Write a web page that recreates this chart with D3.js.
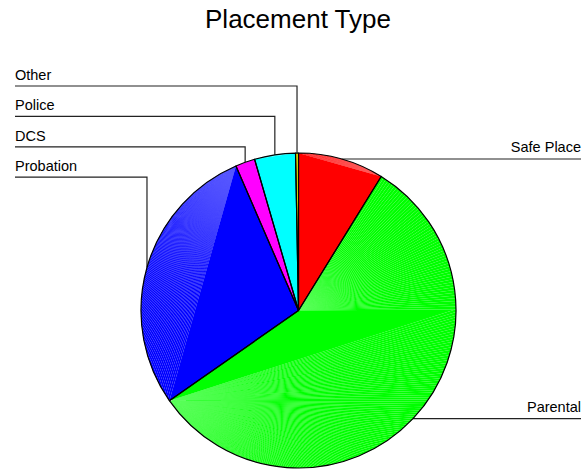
<!DOCTYPE html>
<html>
<head>
<meta charset="utf-8">
<script src="https://cdn.jsdelivr.net/npm/d3@7"></script>
<style>
  body { margin: 0; background: #fff; }
  text { font-family: Arial, "Liberation Sans", Helvetica, sans-serif; }
</style>
</head>
<body>
<div class="chart"></div>
<script>
// data
var categories = ["Safe Place", "Parental", "Probation", "DCS", "Police", "Other"];
var values = [88, 565, 282, 20, 42, 3];
var colors = ["#ff0000", "#00ff00", "#0000ff", "#ff00ff", "#00ffff", "#ffff00"];
var title = "Placement Type";

var pi = Math.PI;
var width = 585,
  height = 470;
var cx = 298.5, cy = 310.5, radius = 157.5;

var svg = d3.select(".chart").append("svg")
  .attr("width", width)
  .attr("height", height);

svg.append("text")
  .attr("x", 298)
  .attr("y", 28)
  .attr("text-anchor", "middle")
  .style("font-size", "26px")
  .text(title);

var pie = d3.pie().sort(null).value(function(d) { return d; });
var slices = pie(values);

var lines = svg.append("g");
var g = svg.append("g")
  .attr("transform", "translate(" + cx + "," + cy + ")");

function pt(a) {
  return [radius * Math.sin(a), -radius * Math.cos(a)];
}

// each slice is filled as a bunch of triangles, that gives the seams
slices.forEach(function(s, i) {
  var n = Math.max(2, Math.ceil((s.endAngle - s.startAngle) / (pi / 180)));
  var pts = [];
  for (var k = 0; k <= n; k++) {
    pts.push(pt(s.startAngle + (s.endAngle - s.startAngle) * k / n));
  }
  var split = 0;
  if (s.startAngle > 0.3) {
    var lim = Math.max(s.startAngle, Math.min(s.endAngle, pi / 2));
    split = Math.round((lim - s.startAngle) / (s.endAngle - s.startAngle) * n);
  }
  var tris = [];
  for (var k = 0; k < split; k++) tris.push([[0, 0], pts[k], pts[k + 1]]);
  tris.push([[0, 0], pts[split], pts[n]]);
  for (var k = split; k < n - 1; k++) tris.push([pts[n], pts[k], pts[k + 1]]);

  g.selectAll(".tri" + i)
    .data(tris)
    .enter().append("path")
    .attr("class", "tri" + i)
    .attr("d", function(t) { return "M" + t.join("L") + "Z"; })
    .style("fill", colors[i]);
});

var arc = d3.arc().innerRadius(0).outerRadius(radius);

g.selectAll(".outline")
  .data(slices)
  .enter().append("path")
  .attr("class", "outline")
  .attr("d", arc)
  .style("fill", "none")
  .style("stroke", "#000")
  .style("stroke-width", 1.2)
  .style("stroke-linejoin", "round");

// leader lines + labels
var leftSlices = slices.filter(function(s) { return (s.startAngle + s.endAngle) / 2 > pi; }).reverse();

slices.forEach(function(s, i) {
  var mid = (s.startAngle + s.endAngle) / 2;
  var p = pt(mid);
  var px = cx + p[0], py = cy + p[1];
  var pathD, tx, ty, anchor;
  if (mid < pi) {
    pathD = "M" + px + "," + py + "L581," + py;
    tx = 581; ty = py - 7; anchor = "end";
  } else {
    var row = leftSlices.indexOf(s);
    var ly = 86 + row * 30.4;
    pathD = "M15," + ly + "L" + px + "," + ly + "L" + px + "," + py;
    tx = 15; ty = ly - 6; anchor = "start";
  }
  lines.append("path")
    .attr("d", pathD)
    .style("fill", "none")
    .style("stroke", "#222")
    .style("stroke-width", 1.2);
  svg.append("text")
    .attr("x", tx)
    .attr("y", ty)
    .attr("text-anchor", anchor)
    .style("font-size", "14.5px")
    .text(categories[i]);
});
</script>
</body>
</html>
